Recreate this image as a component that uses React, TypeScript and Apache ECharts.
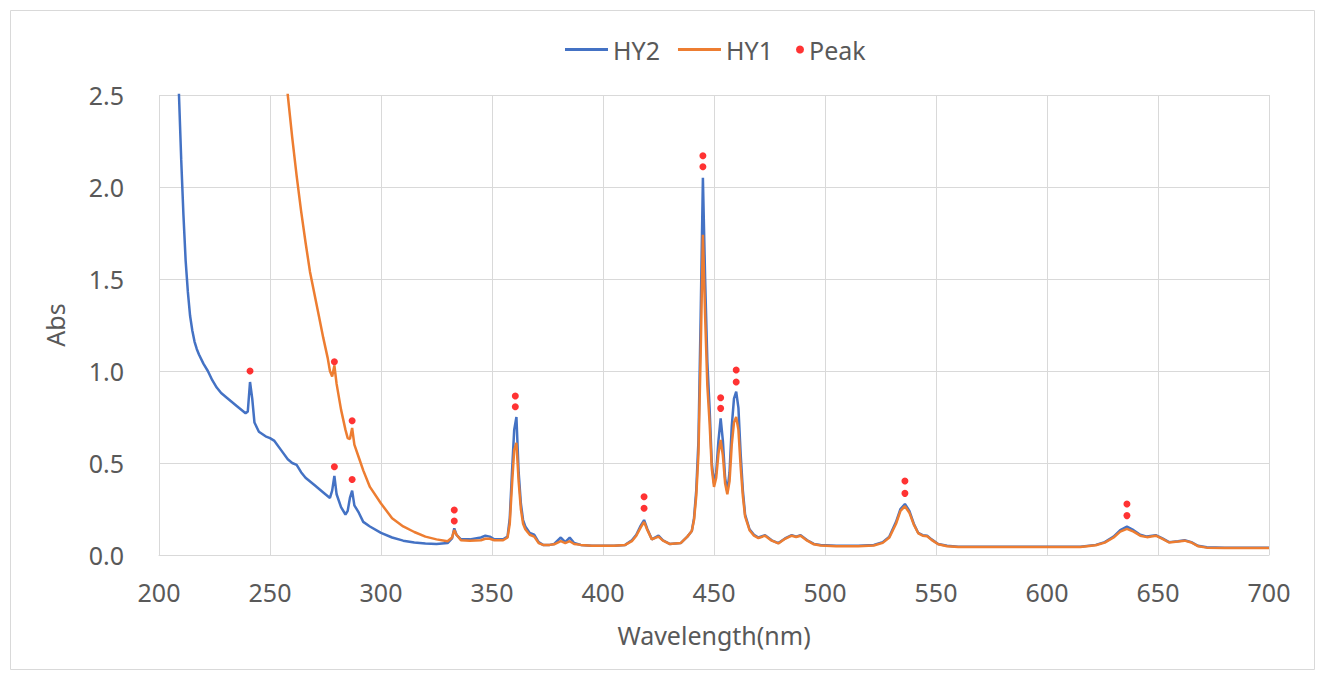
import React, { useEffect, useRef } from "react";
import * as echarts from "echarts";

// Wavelength (nm) / absorbance pairs
const hy2: [number, number][] = [
  [205, 5.0], [208, 3.0], [209, 2.5], [210, 2.15], [211, 1.85], [212, 1.6], [213, 1.43], [214, 1.3],
  [215, 1.22], [216, 1.16], [217, 1.12], [218, 1.09], [220, 1.04], [222, 1.0], [224, 0.95], [226, 0.91],
  [228, 0.88], [230, 0.86], [235, 0.81], [239, 0.77],
  [240, 0.78], [241, 0.94], [242, 0.85], [243, 0.72], [245, 0.67], [248, 0.645], [250, 0.635], [252, 0.62],
  [255, 0.57], [258, 0.52], [260, 0.5], [262, 0.49], [264, 0.45], [266, 0.42], [270, 0.38], [274, 0.34],
  [277, 0.31], [278, 0.35], [279, 0.43], [280, 0.33], [282, 0.26], [284, 0.22], [285, 0.24], [286, 0.31],
  [287, 0.35], [288, 0.27], [290, 0.23], [292, 0.18], [295, 0.155], [300, 0.12], [305, 0.095], [310, 0.078],
  [315, 0.068], [320, 0.062], [325, 0.06], [330, 0.065], [332, 0.09], [333, 0.145], [334, 0.11], [336, 0.085],
  [340, 0.085], [345, 0.095], [347, 0.105], [349, 0.1], [351, 0.085], [355, 0.085], [357, 0.1], [358, 0.2],
  [359, 0.45], [360, 0.68], [361, 0.75], [362, 0.45], [363, 0.28], [364, 0.19], [365, 0.155], [367, 0.12],
  [369, 0.11], [371, 0.07], [373, 0.055], [376, 0.055], [378, 0.06], [381, 0.095], [383, 0.07], [385, 0.095],
  [387, 0.065], [390, 0.055], [395, 0.05], [400, 0.05], [405, 0.05], [410, 0.055], [413, 0.08], [415, 0.11],
  [417, 0.16], [418.5, 0.19], [420, 0.14], [422, 0.085], [425, 0.105], [427, 0.08], [430, 0.06], [435, 0.065],
  [438, 0.1], [440, 0.13], [441, 0.2], [442, 0.35], [443, 0.62], [444, 1.3], [445, 2.05], [446, 1.5],
  [447, 1.05], [448, 0.8], [449, 0.5], [450, 0.39], [451, 0.45], [452, 0.62], [453, 0.743], [454, 0.62],
  [455, 0.42], [456, 0.345], [457, 0.45], [458, 0.7], [459, 0.85], [460, 0.888], [461, 0.8], [462, 0.55],
  [463, 0.35], [464, 0.22], [466, 0.14], [468, 0.11], [470, 0.095], [473, 0.108], [476, 0.08], [479, 0.065],
  [482, 0.09], [485, 0.108], [487, 0.1], [489, 0.108], [492, 0.08], [495, 0.06], [498, 0.054], [505, 0.05],
  [515, 0.05], [522, 0.055], [526, 0.07], [529, 0.1], [532, 0.18], [534, 0.25], [536, 0.277], [538, 0.24],
  [540, 0.17], [542, 0.12], [544, 0.108], [546, 0.105], [548, 0.085], [551, 0.06], [555, 0.05], [560, 0.045],
  [580, 0.045], [600, 0.045], [615, 0.045], [622, 0.055], [626, 0.07], [630, 0.1], [633, 0.135], [636, 0.154],
  [639, 0.135], [642, 0.11], [645, 0.1], [649, 0.108], [652, 0.09], [655, 0.07], [659, 0.075], [662, 0.08],
  [665, 0.07], [668, 0.05], [672, 0.042], [680, 0.04], [690, 0.04], [700, 0.04],
];

const hy1: [number, number][] = [
  [250, 3.7], [255, 2.95], [258, 2.5], [260, 2.27], [262, 2.06], [264, 1.87], [266, 1.7], [268, 1.54],
  [270, 1.42], [272, 1.3], [274, 1.18], [276, 1.07], [277, 1.0], [278, 0.97], [279, 1.03], [280, 0.93],
  [282, 0.79], [284, 0.68], [285, 0.635], [286, 0.63], [287, 0.69], [288, 0.6], [290, 0.53], [292, 0.46],
  [295, 0.37], [300, 0.28], [305, 0.2], [310, 0.155], [315, 0.125], [320, 0.1], [325, 0.085], [330, 0.075],
  [332, 0.095], [333, 0.135], [334, 0.11], [336, 0.08], [340, 0.078], [345, 0.08], [347, 0.088], [349, 0.088],
  [351, 0.08], [355, 0.08], [357, 0.095], [358, 0.17], [359, 0.38], [360, 0.57], [361, 0.61], [362, 0.4],
  [363, 0.25], [364, 0.17], [365, 0.14], [367, 0.11], [369, 0.1], [371, 0.065], [373, 0.055], [376, 0.055],
  [378, 0.058], [381, 0.075], [383, 0.065], [385, 0.075], [387, 0.06], [390, 0.055], [395, 0.05], [400, 0.05],
  [405, 0.05], [410, 0.055], [413, 0.075], [415, 0.105], [417, 0.15], [418.5, 0.18], [420, 0.135], [422, 0.085],
  [425, 0.1], [427, 0.078], [430, 0.06], [435, 0.065], [438, 0.1], [440, 0.13], [441, 0.19], [442, 0.32],
  [443, 0.55], [444, 1.1], [445, 1.74], [446, 1.3], [447, 0.92], [448, 0.72], [449, 0.47], [450, 0.37],
  [451, 0.42], [452, 0.55], [453, 0.625], [454, 0.54], [455, 0.39], [456, 0.33], [457, 0.4], [458, 0.6],
  [459, 0.72], [460, 0.75], [461, 0.68], [462, 0.48], [463, 0.32], [464, 0.21], [466, 0.135], [468, 0.105],
  [470, 0.092], [473, 0.105], [476, 0.078], [479, 0.063], [482, 0.088], [485, 0.105], [487, 0.098], [489, 0.105],
  [492, 0.078], [495, 0.058], [498, 0.052], [505, 0.048], [515, 0.048], [522, 0.052], [526, 0.066], [529, 0.095],
  [532, 0.17], [534, 0.24], [536, 0.265], [538, 0.23], [540, 0.165], [542, 0.118], [544, 0.105], [546, 0.102],
  [548, 0.082], [551, 0.058], [555, 0.048], [560, 0.043], [580, 0.043], [600, 0.043], [615, 0.043], [622, 0.053],
  [626, 0.067], [630, 0.095], [633, 0.127], [636, 0.142], [639, 0.127], [642, 0.105], [645, 0.097], [649, 0.105],
  [652, 0.088], [655, 0.068], [659, 0.073], [662, 0.078], [665, 0.068], [668, 0.048], [672, 0.04], [680, 0.038],
  [690, 0.038], [700, 0.038],
];

const peaks: [number, number][] = [
  [241, 1.0], [279, 1.05], [279, 0.48], [287, 0.73], [287, 0.41], [333, 0.245], [333, 0.185],
  [360.5, 0.864], [360.5, 0.806], [418.5, 0.317], [418.5, 0.254], [445, 2.17], [445, 2.11],
  [453, 0.855], [453, 0.797], [460, 1.005], [460, 0.94], [536, 0.402], [536, 0.335],
  [636, 0.277], [636, 0.214],
];

const FONT = "Noto Sans";
const TEXT = "#595959";
const GRID = "#d9d9d9";

export default function App() {
  const ref = useRef<HTMLDivElement>(null);
  useEffect(() => {
    if (!ref.current) return;
    const chart = echarts.init(ref.current, undefined, { renderer: "svg" });
    chart.setOption({
      animation: false,
      backgroundColor: "#ffffff",
      textStyle: { fontFamily: FONT, color: TEXT },
      graphic: [
        {
          type: "rect",
          shape: { x: 10.5, y: 10.5, width: 1304, height: 659 },
          style: { fill: "none", stroke: GRID, lineWidth: 1 },
          silent: true,
        },
      ],
      legend: [
        {
          left: 560,
          top: 32,
          icon: "rect",
          itemWidth: 43,
          itemHeight: 3,
          itemGap: 18,
          textStyle: { fontFamily: FONT, fontSize: 25, color: TEXT },
          data: ["HY2", "HY1"],
        },
        {
          left: 791,
          top: 32,
          itemWidth: 8,
          itemHeight: 8,
          textStyle: { fontFamily: FONT, fontSize: 25, color: TEXT },
          data: ["Peak"],
        },
      ],
      grid: { left: 159, right: 50, top: 95, bottom: 118 },
      xAxis: {
        type: "value",
        min: 200,
        max: 700,
        interval: 50,
        name: "Wavelength(nm)",
        nameLocation: "middle",
        nameGap: 67,
        nameTextStyle: { fontFamily: FONT, fontSize: 25, color: TEXT },
        axisLine: { show: true, lineStyle: { color: GRID, width: 1 } },
        axisTick: { show: false },
        axisLabel: { margin: 24, fontFamily: FONT, fontSize: 25, color: TEXT },
        splitLine: { show: true, lineStyle: { color: GRID, width: 1 } },
      },
      yAxis: {
        type: "value",
        min: 0,
        max: 2.5,
        interval: 0.5,
        name: "Abs",
        nameLocation: "middle",
        nameGap: 92,
        nameTextStyle: { fontFamily: FONT, fontSize: 25, color: TEXT },
        axisLine: { show: false },
        axisTick: { show: false },
        axisLabel: {
          margin: 35,
          fontFamily: FONT,
          fontSize: 25,
          color: TEXT,
          formatter: (v: number) => v.toFixed(1),
        },
        splitLine: { show: true, lineStyle: { color: GRID, width: 1 } },
      },
      series: [
        {
          name: "HY2",
          type: "line",
          data: hy2,
          symbol: "none",
          clip: true,
          lineStyle: { color: "#4472C4", width: 2.5 },
          itemStyle: { color: "#4472C4" },
        },
        {
          name: "HY1",
          type: "line",
          data: hy1,
          symbol: "none",
          clip: true,
          lineStyle: { color: "#ED7D31", width: 2.5 },
          itemStyle: { color: "#ED7D31" },
        },
        {
          name: "Peak",
          type: "scatter",
          data: peaks,
          symbol: "circle",
          symbolSize: 7,
          itemStyle: { color: "#FF0000" },
          z: 5,
        },
      ],
    });
    return () => chart.dispose();
  }, []);
  return (
    <div
      ref={ref}
      style={{ position: "fixed", left: 0, top: 0, width: 1319, height: 673, background: "#fff" }}
    />
  );
}
